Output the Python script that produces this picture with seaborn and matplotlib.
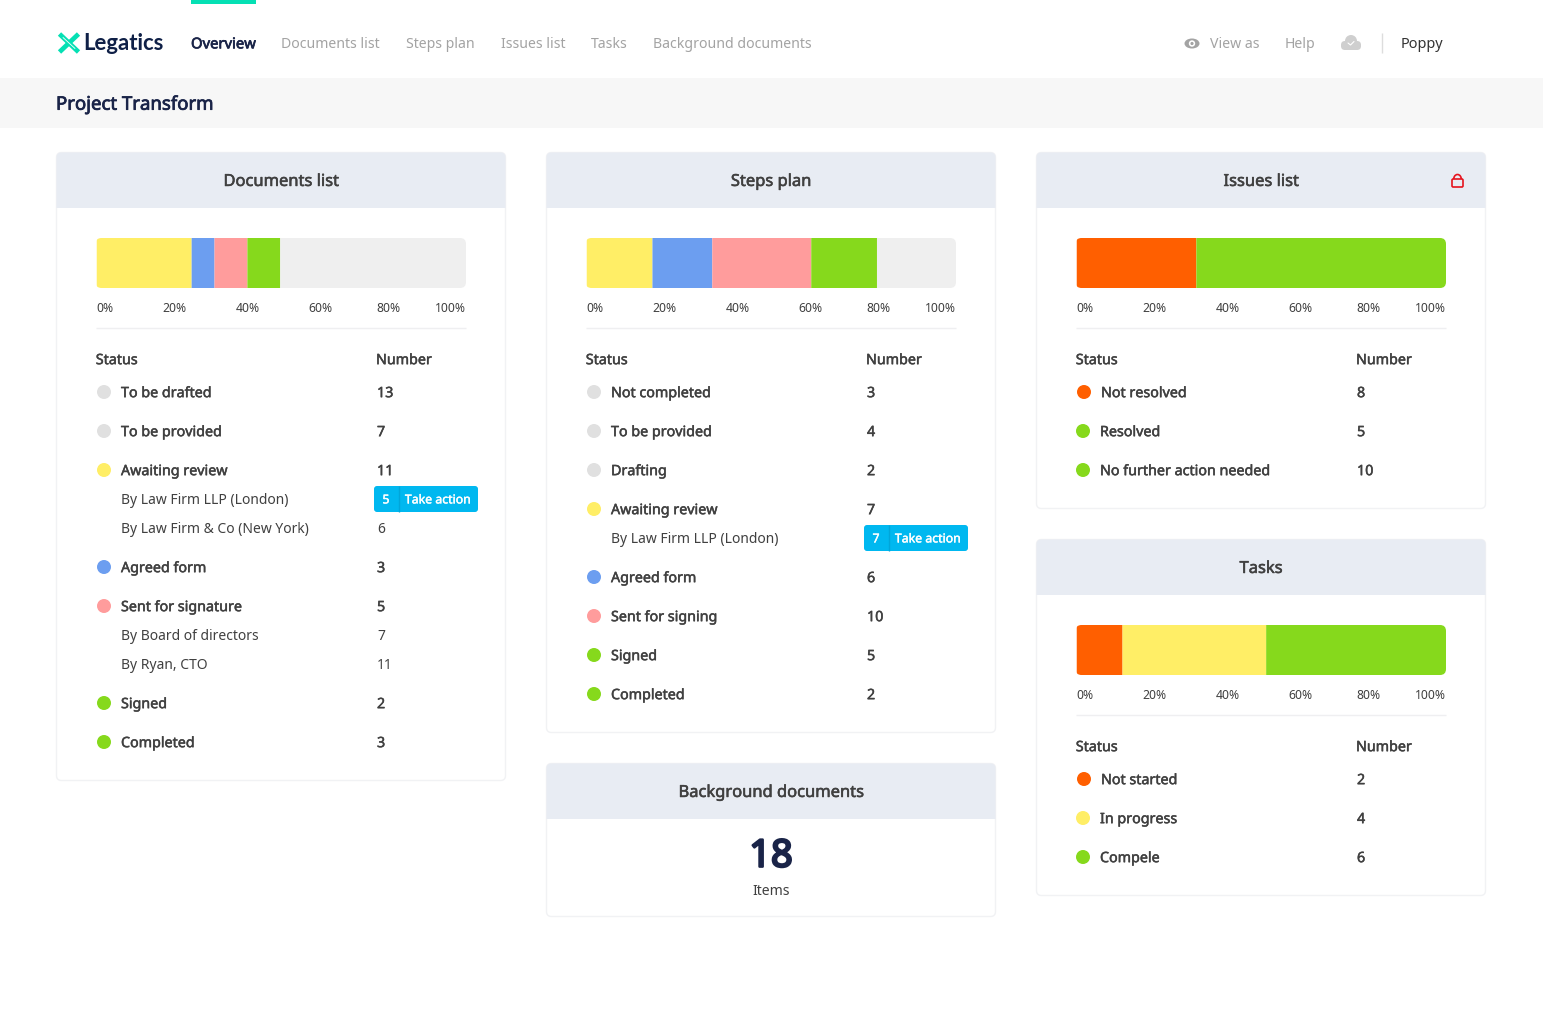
import matplotlib
matplotlib.use("Agg")
import matplotlib.pyplot as plt
import matplotlib.patheffects as pe
from matplotlib.patches import FancyBboxPatch, Rectangle, Circle, Ellipse, Arc
import seaborn as sns

W, H = 1543, 1024

# ---- data ----
nav_items = ["Documents list", "Steps plan", "Issues list", "Tasks", "Background documents"]
tick_labels = ["0%", "20%", "40%", "60%", "80%", "100%"]

doc_segments = ["Awaiting review", "Agreed form", "Sent for signature", "Signed", "Remaining"]
doc_shares = [25.7, 6.2, 8.9, 8.9, 50.3]
doc_labels = ["To be drafted", "To be provided", "Awaiting review", "By Law Firm LLP (London)",
              "By Law Firm & Co (New York)", "Agreed form", "Sent for signature",
              "By Board of directors", "By Ryan, CTO", "Signed", "Completed"]
doc_numbers = [13, 7, 11, 5, 6, 3, 5, 7, 11, 2, 3]

step_segments = ["Awaiting review", "Agreed form", "Sent for signature", "Signed", "Remaining"]
step_shares = [17.8, 16.2, 26.8, 17.8, 21.4]
step_labels = ["Not completed", "To be provided", "Drafting", "Awaiting review",
               "By Law Firm LLP (London)", "Agreed form", "Sent for signing", "Signed", "Completed"]
step_numbers = [3, 4, 2, 7, 7, 6, 10, 5, 2]

issue_segments = ["Not resolved", "Resolved"]
issue_shares = [32.4, 67.6]
issue_labels = ["Not resolved", "Resolved", "No further action needed"]
issue_numbers = [8, 5, 10]

task_segments = ["Not started", "In progress", "Compele"]
task_shares = [12.4, 38.9, 48.7]
task_labels = ["Not started", "In progress", "Compele"]
task_numbers = [2, 4, 6]

action_rows = ["By Law Firm LLP (London)"]
# these rows sit a pixel further left in the original layout
nudged_rows = ["Resolved", "No further action needed", "In progress", "Compele"]

background_count = 18

# ---- colours ----
GRAY, YELLOW, BLUE, PINK, GREEN, ORANGE = "#E0E0E0", "#FFEE66", "#6C9EF0", "#FF9C9C", "#86D91C", "#FF5F00"
STATUS_COLORS = {
    "To be drafted": GRAY, "To be provided": GRAY, "Not completed": GRAY, "Drafting": GRAY,
    "Awaiting review": YELLOW, "In progress": YELLOW, "Agreed form": BLUE,
    "Sent for signature": PINK, "Sent for signing": PINK, "Signed": GREEN, "Completed": GREEN,
    "Resolved": GREEN, "No further action needed": GREEN, "Compele": GREEN,
    "Not resolved": ORANGE, "Not started": ORANGE, "Remaining": "#EFEFEF",
}
NAVY = "#1A2448"
TEXT = "#404040"
MUTED = "#A3A3A3"
TEAL = "#05E0B4"

sns.set_theme(style="white")
plt.rcParams["font.family"] = ["Noto Sans", "DejaVu Sans"]

fig = plt.figure(figsize=(W / 100, H / 100), dpi=100, facecolor="white")
page = fig.add_axes([0, 0, 1, 1], zorder=0)
page.set_xlim(0, W)
page.set_ylim(H, 0)
page.axis("off")


def px(size):
    return size * 0.72


def rounded(x, y, w, h, r, **kw):
    return FancyBboxPatch((x + r, y + r), w - 2 * r, h - 2 * r,
                          boxstyle=f"round,pad={r},rounding_size={r}", **kw)


def label(x, y, s, size=14, color=TEXT, ha="left", heavy=0):
    # baseline anchoring keeps words with and without descenders on one line
    t = page.text(x, y + 0.36 * size, s, fontsize=px(size), color=color, ha=ha, va="baseline")
    # Noto Sans only comes in regular here, a thin outline gives the semibold look
    if heavy:
        t.set_path_effects([pe.withStroke(linewidth=heavy, foreground=color)])
    return t


def card(x, y, h, title):
    box = rounded(x + 0.5, y + 0.5, 449, h - 1, 5, facecolor="white", edgecolor="#F1F2F4", linewidth=1)
    page.add_patch(box)
    head = Rectangle((x, y), 450, 56, facecolor="#E8ECF3", edgecolor="none")
    page.add_patch(head)
    head.set_clip_path(rounded(x + 0.5, y + 0.5, 449, h - 1, 5, transform=page.transData))
    label(x + 225, y + 28, title, size=16.5, ha="center", heavy=0.4)


def stacked_bar(x, y, segments, shares):
    ax = fig.add_axes([x / W, 1 - (y + 50) / H, 370 / W, 50 / H], zorder=2)
    ax.patch.set_alpha(0)
    clip = rounded(x - 0.5, y, 370.5, 50, 6, transform=page.transData)
    start = 0
    for name, share in zip(segments, shares):
        sns.barplot(x=[share], y=["share"], color=STATUS_COLORS[name], saturation=1,
                    width=1, linewidth=0, left=start, ax=ax)
        start += share
    for bar in ax.patches:
        bar.set_clip_path(clip)
        bar.set_snap(False)
    ax.set_xlim(0, 100)
    ax.set_ylim(0.5, -0.5)
    ax.set_xlabel("")
    ax.set_ylabel("")
    ax.set_yticks([])
    # the web layout spreads the labels evenly, they do not sit on true 20% steps
    ax.set_xticks([-0.2, 21.1, 40.9, 60.7, 79.0, 100])
    ax.set_xticklabels(tick_labels, fontsize=px(12.2), color=TEXT)
    ax.get_xticklabels()[0].set_ha("left")
    ax.get_xticklabels()[-1].set_ha("right")
    ax.tick_params(axis="x", length=0, pad=10)
    sns.despine(ax=ax, left=True, bottom=True)


def status_table(x, y, labels, numbers):
    page.plot([x, x + 370], [y - 31, y - 31], color="#EFEFF1", lw=1, solid_capstyle="butt")
    label(x - 0.2, y, "Status", size=14.3, heavy=0.35)
    label(x + 280, y, "Number", size=14.3, heavy=0.35)
    row = y + 33
    for i, (name, num) in enumerate(zip(labels, numbers)):
        # sub rows (no dot) sit closer together than status rows
        is_main = name in STATUS_COLORS
        if i > 0:
            row += 39 if is_main else 29
        if is_main:
            shift = 1 if name in nudged_rows else 0
            page.add_patch(Circle((x + 8 - shift, row), 7, facecolor=STATUS_COLORS[name], edgecolor="none"))
            label(x + 25 - shift, row, name, size=14.3, heavy=0.35)
            label(x + 281, row, str(num), size=14.3, heavy=0.35)
        else:
            label(x + 25, row, name, size=13.9)
            if name in action_rows:
                page.add_patch(rounded(x + 278, row - 13, 104, 26, 3, facecolor="#00B8F0", edgecolor="none"))
                page.plot([x + 302.5, x + 302.5], [row - 13, row + 13], color="#00A6DA", lw=1, solid_capstyle="butt")
                label(x + 290, row, str(num), size=12.3, color="white", ha="center", heavy=0.3)
                label(x + 342, row, "Take action", size=12.3, color="white", ha="center", heavy=0.3)
            else:
                label(x + 281, row, str(num), size=13.9)


def chart_card(x, y, h, title, segments, shares, labels, numbers):
    card(x, y, h, title)
    stacked_bar(x + 40, y + 86, segments, shares)
    status_table(x + 40, y + 207, labels, numbers)


# ---- page chrome ----
page.add_patch(Rectangle((191, 0), 65, 4, facecolor=TEAL, edgecolor="none"))
page.add_patch(Rectangle((0, 78), W, 50, facecolor="#F7F7F7", edgecolor="none"))
page.plot([59.5, 78.5], [34, 52], color=TEAL, lw=3.4, solid_capstyle="butt")
page.plot([59.5, 78.5], [52, 34], color=TEAL, lw=3.4, solid_capstyle="butt")
page.plot([63, 75], [37.5, 48.5], color="white", lw=0.6)
page.text(83.5, 41.5, "Legatics", fontsize=px(22.2), color="#0F2047", fontweight="bold",
          family="Lato", ha="left", va="center_baseline")
label(191, 43, "Overview", size=14.8, color=NAVY, heavy=0.5)
for nav_x, item in zip([281, 406, 501, 591, 653], nav_items):
    label(nav_x, 43, item, size=14.1, color=MUTED)

page.add_patch(Ellipse((1192, 43.5), 15, 10, facecolor=MUTED, edgecolor="none"))
page.add_patch(Circle((1192, 43.5), 3.2, facecolor="white", edgecolor="none"))
page.add_patch(Circle((1192, 43.5), 1.6, facecolor=MUTED, edgecolor="none"))
label(1210, 43, "View as", size=14.1, color=MUTED)
label(1285, 43, "Help", size=14.1, color=MUTED)
page.add_patch(rounded(1341, 41, 20, 9, 4, facecolor="#CFCFCF", edgecolor="none"))
page.add_patch(Circle((1351, 41), 6, facecolor="#CFCFCF", edgecolor="none"))
page.plot([1348, 1350.5, 1354], [43, 45, 41.5], color="white", lw=0.8)
page.plot([1381.5, 1381.5], [33, 53], color="#DDDDDD", lw=1, solid_capstyle="butt")
label(1401, 43, "Poppy", size=14.5, color="#333333")
label(56, 103, "Project Transform", size=18.6, color=NAVY, heavy=0.55)

# ---- cards ----
chart_card(56, 152, 629, "Documents list", doc_segments, doc_shares, doc_labels, doc_numbers)
chart_card(546, 152, 581, "Steps plan", step_segments, step_shares, step_labels, step_numbers)
chart_card(1036, 152, 357, "Issues list", issue_segments, issue_shares, issue_labels, issue_numbers)
chart_card(1036, 539, 357, "Tasks", task_segments, task_shares, task_labels, task_numbers)

card(546, 763, 154, "Background documents")
label(771, 853, str(background_count), size=38, color=NAVY, ha="center", heavy=1.7)
label(771, 890, "Items", ha="center")

# lock icon on the issues card
page.add_patch(rounded(1452, 179, 11, 8, 1.2, facecolor="none", edgecolor="#E5141E", linewidth=1.2))
page.add_patch(Arc((1457.5, 179), 7.5, 9, theta1=180, theta2=360, color="#E5141E", lw=1.2))

fig.savefig("out.png", dpi=100)
